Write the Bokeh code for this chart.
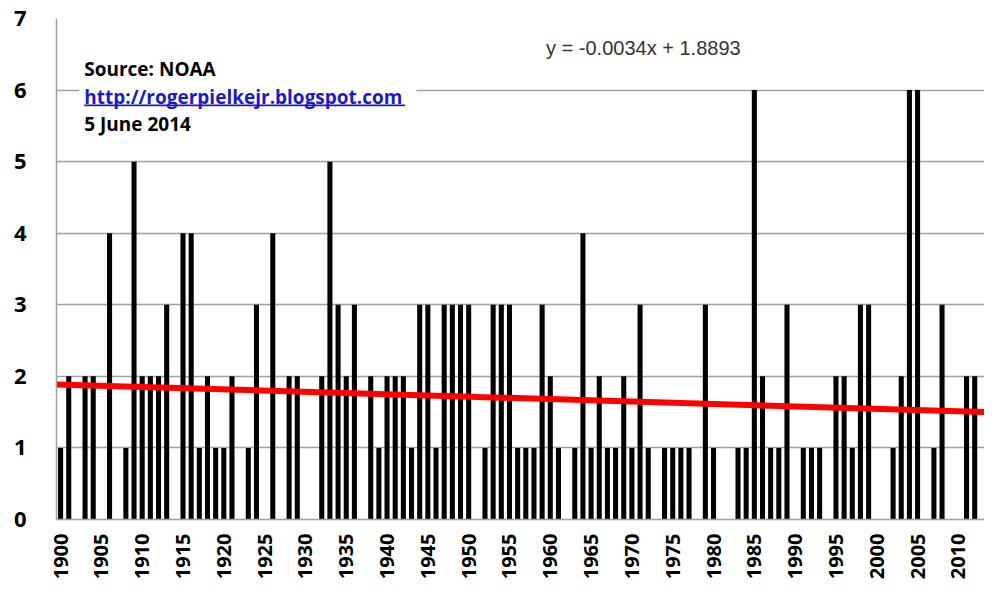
import math
from bokeh.plotting import figure
from bokeh.models import ColumnDataSource, FixedTicker, Label, BoxAnnotation, Range1d
from bokeh.embed import file_html
from bokeh.resources import INLINE

# ---- data ----
years = list(range(1900, 2014))
counts = [
    1, 2, 0, 2, 2, 0, 4, 0, 1, 5,   # 1900-1909
    2, 2, 2, 3, 0, 4, 4, 1, 2, 1,   # 1910-1919
    1, 2, 0, 1, 3, 0, 4, 0, 2, 2,   # 1920-1929
    0, 0, 2, 5, 3, 2, 3, 0, 2, 1,   # 1930-1939
    2, 2, 2, 1, 3, 3, 1, 3, 3, 3,   # 1940-1949
    3, 0, 1, 3, 3, 3, 1, 1, 1, 3,   # 1950-1959
    2, 1, 0, 1, 4, 1, 2, 1, 1, 2,   # 1960-1969
    1, 3, 1, 0, 1, 1, 1, 1, 0, 3,   # 1970-1979
    1, 0, 0, 1, 1, 6, 2, 1, 1, 3,   # 1980-1989
    0, 1, 1, 1, 0, 2, 2, 1, 3, 3,   # 1990-1999
    0, 0, 1, 2, 6, 6, 0, 1, 3, 0,   # 2000-2009
    0, 2, 2, 0,                     # 2010-2013
]
tick_years = list(range(1900, 2011, 5))
y_ticks = [0, 1, 2, 3, 4, 5, 6, 7]
trend_slope = -0.0034
trend_intercept = 1.8893
equation_text = "y = -0.0034x + 1.8893"
source_lines = ["Source: NOAA", "http://rogerpielkejr.blogspot.com", "5 June 2014"]

# ---- figure ----
p = figure(width=984, height=583, output_backend="svg", toolbar_location=None,
           x_range=Range1d(years[0] - 0.5, years[-1] + 0.2), y_range=Range1d(0, 7),
           min_border_left=56, min_border_right=0, min_border_top=18, min_border_bottom=64)
p.background_fill_color = "white"
p.border_fill_color = "white"
p.outline_line_color = None

src = ColumnDataSource(dict(x=years, top=counts))
p.vbar(x="x", top="top", width=0.62, source=src, fill_color="black", line_color=None)

# trend line (x index 1 = 1900)
tx = [years[0] - 0.5, years[-1] + 0.2]
ty = [trend_slope * (x - (years[0] - 1)) + trend_intercept for x in tx]
p.line(tx, ty, line_color="#ff0000", line_width=6)

# axes
grid_col = "#a0a0a0"
label_font = "Open Sans"
for ax in (p.xaxis, p.yaxis):
    ax.major_tick_line_color = None
    ax.minor_tick_line_color = None
    ax.major_tick_out = 0
    ax.major_tick_in = 0
    ax.minor_tick_out = 0
    ax.minor_tick_in = 0
    ax.axis_line_color = grid_col
    ax.axis_line_width = 1.5
    ax.major_label_text_font = label_font
    ax.major_label_text_font_style = "bold"
    ax.major_label_text_color = "black"

p.xaxis.ticker = FixedTicker(ticks=tick_years)
p.xaxis.major_label_orientation = math.pi / 2
p.xaxis.major_label_text_font_size = "20px"
p.xaxis.major_label_standoff = 14

p.yaxis.ticker = FixedTicker(ticks=y_ticks)
p.yaxis.major_label_text_font_size = "22px"
p.yaxis.major_label_standoff = 30

p.xgrid.grid_line_color = None
p.ygrid.ticker = FixedTicker(ticks=y_ticks)
p.ygrid.grid_line_color = grid_col
p.ygrid.grid_line_width = 1.5

# white box behind the source text
p.add_layout(BoxAnnotation(left=1902.3, right=1943.6, bottom=5.30, top=6.52,
                           fill_color="white", fill_alpha=1.0, line_color=None))

link_col = "#1a1acc"
colors = ["black", link_col, "black"]
ys = [6.30, 5.91, 5.53]
for t, c, yy in zip(source_lines, colors, ys):
    p.add_layout(Label(x=1902.9, y=yy, text=t, text_font=label_font, text_font_style="bold",
                       text_font_size="19px", text_color=c, text_baseline="middle"))
# underline of the link
p.add_layout(BoxAnnotation(left=1902.9, right=1942.2, bottom=5.775, top=5.797,
                           fill_color=link_col, fill_alpha=1.0, line_color=None))

p.add_layout(Label(x=1971.4, y=6.59, text=equation_text, text_font="Liberation Sans",
                   text_font_size="20px", text_color="#333333", text_align="center",
                   text_baseline="middle"))

open("out.html", "w").write(file_html(p, INLINE))
